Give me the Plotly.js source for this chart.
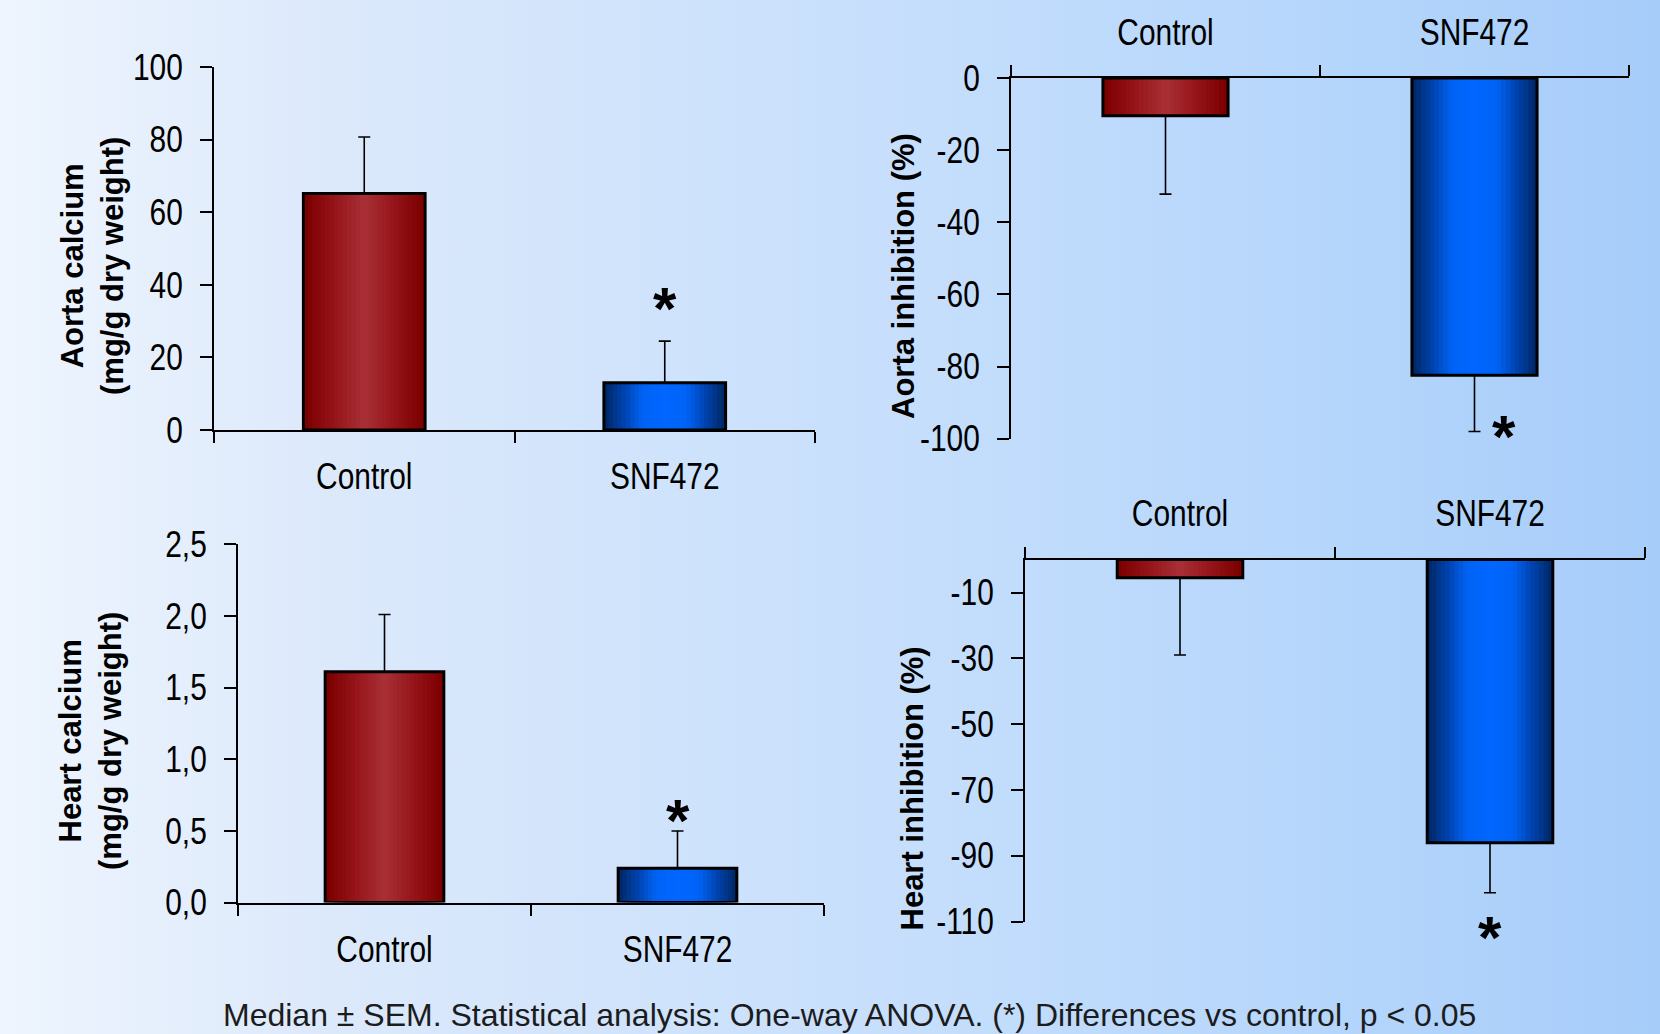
<!DOCTYPE html>
<html>
<head>
<meta charset="utf-8">
<script src="https://cdn.plot.ly/plotly-3.0.1.min.js"></script>
<style>
html,body{margin:0;padding:0;width:1660px;height:1034px;overflow:hidden;
background:linear-gradient(to right,#eef5fe 0%,#dce9fb 20%,#c9e0fc 50%,#bfdbfc 65%,#b2d4fb 85%,#a6ccf9 100%);}
#chart{width:1660px;height:1034px;}
</style>
</head>
<body>
<div id="chart"></div>
<script>
// ---- data ----
const categories = ['Control', 'SNF472'];
const aortaCalcium = [65.2, 13.0];
const aortaCalciumSem = [15.6, 11.5];
const heartCalcium = [1.61, 0.24];
const heartCalciumSem = [0.40, 0.26];
const aortaInhibition = [-10.5, -82.4];
const aortaInhibitionSem = [21.7, 15.6];
const heartInhibition = [-5.5, -86.0];
const heartInhibitionSem = [23.5, 15.2];
// y tick values of the inhibition panels (labels use a plain hyphen)
const aortaInhibitionTicks = [0, -20, -40, -60, -80, -100];
const heartInhibitionTicks = [-10, -30, -50, -70, -90, -110];
// asterisk positions (value units): aorta calcium, aorta inhibition, heart calcium, heart inhibition
const asteriskY = [35, -97, 0.61, -110];
const footnote = 'Median \u00B1 SEM. Statistical analysis: One-way ANOVA. (*) Differences vs control, p < 0.05';

// ---- style ----
const redStops = [[0, '#7c0000'], [0.5, '#951419'], [1, '#a72e34']];
const blueStops = [[0, '#00296a'], [0.35, '#0046b4'], [0.65, '#0063f6'], [1, '#0066ff']];
const BAR_W = 0.405, LAYERS = 14;
const NARROW = 0.83;

function hex2rgb(h) { return [1, 3, 5].map(i => parseInt(h.substr(i, 2), 16)); }
function lerpStops(stops, t) {
  for (let i = 1; i < stops.length; i++) {
    if (t <= stops[i][0] + 1e-9) {
      const a = stops[i - 1], b = stops[i];
      const f = (t - a[0]) / (b[0] - a[0]);
      const ca = hex2rgb(a[1]), cb = hex2rgb(b[1]);
      return 'rgb(' + ca.map((v, k) => Math.round(v + (cb[k] - v) * f)).join(',') + ')';
    }
  }
  return stops[stops.length - 1][1];
}

function panelTraces(values, sem, xa, ya) {
  const tr = [];
  for (let i = 0; i < LAYERS; i++) {
    const t = i / (LAYERS - 1);
    tr.push({
      type: 'bar', x: categories, y: values, xaxis: xa, yaxis: ya,
      width: BAR_W * (1 - i / LAYERS),
      marker: {color: [lerpStops(redStops, t), lerpStops(blueStops, t)], line: {width: 0}},
      hoverinfo: 'skip', showlegend: false
    });
  }
  tr.push({
    type: 'bar', x: categories, y: values, xaxis: xa, yaxis: ya, width: BAR_W,
    marker: {color: 'rgba(0,0,0,0)', line: {color: '#000', width: 3}},
    error_y: {
      type: 'data', symmetric: false,
      array: values.map((v, k) => v >= 0 ? sem[k] : 0),
      arrayminus: values.map((v, k) => v < 0 ? sem[k] : 0),
      color: '#000', thickness: 1.6, width: 6
    },
    showlegend: false
  });
  return tr;
}

const data = [].concat(
  panelTraces(aortaCalcium, aortaCalciumSem, 'x', 'y'),
  panelTraces(aortaInhibition, aortaInhibitionSem, 'x2', 'y2'),
  panelTraces(heartCalcium, heartCalciumSem, 'x3', 'y3'),
  panelTraces(heartInhibition, heartInhibitionSem, 'x4', 'y4')
);

const W = 1660, H = 1034;
const tickFont = {family: '"Liberation Sans", Arial, sans-serif', size: 36, color: '#000'};
function xAxis(px0, px1, anchor, side) {
  return {domain: [px0 / W, px1 / W], anchor: anchor, side: side, type: 'category',
    range: [-0.5, 1.5], tickson: 'boundaries', ticks: 'outside', ticklen: 11, tickwidth: 2,
    tickcolor: '#000', showline: true, linecolor: '#000', linewidth: 2, showgrid: false,
    zeroline: false, tickfont: tickFont, ticklabelstandoff: side === 'top' ? 17 : 14, fixedrange: true};
}
function yAxis(pyTop, pyBottom, anchor, range, opts) {
  return Object.assign({domain: [1 - pyBottom / H, 1 - pyTop / H], anchor: anchor, range: range,
    ticks: 'outside', ticklen: 12, tickwidth: 2,
    tickcolor: '#000', showline: true, linecolor: '#000', linewidth: 2, showgrid: false,
    zeroline: false, tickfont: tickFont, ticklabelstandoff: 10, fixedrange: true}, opts);
}

const titleFont = {family: 'Arial, "Liberation Sans", sans-serif', size: 31, color: '#000'};
const starFont = {family: 'Arial, "Liberation Sans", sans-serif', size: 60, color: '#000'};

const layout = {
  width: W, height: H,
  margin: {l: 0, r: 0, t: 0, b: 0},
  paper_bgcolor: 'rgba(0,0,0,0)', plot_bgcolor: 'rgba(0,0,0,0)',
  barmode: 'overlay', showlegend: false, separators: ', ',
  xaxis: xAxis(214, 815, 'y', 'bottom'),
  yaxis: yAxis(67.3, 430, 'x', [0, 100], {tick0: 0, dtick: 20}),
  xaxis2: xAxis(1011, 1629, 'y2', 'top'),
  yaxis2: yAxis(78, 438.7, 'x2', [-100, 0], {tickmode: 'array', tickvals: aortaInhibitionTicks,
    ticktext: aortaInhibitionTicks.map(String)}),
  xaxis3: xAxis(238, 824, 'y3', 'bottom'),
  yaxis3: yAxis(544.3, 902.6, 'x3', [0, 2.5], {tick0: 0, dtick: 0.5, tickformat: '.1f'}),
  xaxis4: xAxis(1025, 1645, 'y4', 'top'),
  yaxis4: yAxis(559.6, 921.7, 'x4', [-110, 0], {tickmode: 'array', tickvals: heartInhibitionTicks,
    ticktext: heartInhibitionTicks.map(String)}),
  annotations: [
    {xref: 'paper', yref: 'paper', x: 92 / W, y: 1 - 266 / H, text: '<b>Aorta calcium<br>(mg/g dry weight)</b>',
     textangle: -90, showarrow: false, font: titleFont, xanchor: 'center', yanchor: 'middle'},
    {xref: 'paper', yref: 'paper', x: 90 / W, y: 1 - 741 / H, text: '<b>Heart calcium<br>(mg/g dry weight)</b>',
     textangle: -90, showarrow: false, font: titleFont, xanchor: 'center', yanchor: 'middle'},
    {xref: 'paper', yref: 'paper', x: 904 / W, y: 1 - 276 / H, text: '<b>Aorta inhibition (%)</b>',
     textangle: -90, showarrow: false, font: titleFont, xanchor: 'center', yanchor: 'middle'},
    {xref: 'paper', yref: 'paper', x: 912 / W, y: 1 - 788.5 / H, text: '<b>Heart inhibition (%)</b>',
     textangle: -90, showarrow: false, font: titleFont, xanchor: 'center', yanchor: 'middle'},
    {xref: 'x', yref: 'y', x: categories[1], y: asteriskY[0], text: '<b>*</b>', showarrow: false, font: starFont, yshift: -5},
    {xref: 'x2', yref: 'y2', x: categories[1], y: asteriskY[1], text: '<b>*</b>', showarrow: false, font: starFont, xshift: 29, yshift: -9},
    {xref: 'x3', yref: 'y3', x: categories[1], y: asteriskY[2], text: '<b>*</b>', showarrow: false, font: starFont, yshift: -5},
    {xref: 'x4', yref: 'y4', x: categories[1], y: asteriskY[3], text: '<b>*</b>', showarrow: false, font: starFont, yshift: -16},
    {xref: 'paper', yref: 'paper', x: 849.5 / W, y: 1 - 1015 / H, text: footnote, showarrow: false,
     font: {family: 'Arial, "Liberation Sans", sans-serif', size: 32, color: '#1c1c1c'}, xanchor: 'center', yanchor: 'middle'}
  ]
};

Plotly.newPlot('chart', data, layout, {displayModeBar: false, staticPlot: true}).then(function (gd) {
  // the reference uses a condensed face for tick labels: compress the glyphs horizontally
  const sel = ['x', 'y', 'x2', 'y2', 'x3', 'y3', 'x4', 'y4'].map(id => '.' + id + 'tick text').join(', ');
  gd.querySelectorAll(sel).forEach(function (el) {
    const w = el.getComputedTextLength();
    if (w > 0) {
      el.setAttribute('textLength', (w * NARROW).toFixed(2));
      el.setAttribute('lengthAdjust', 'spacingAndGlyphs');
    }
  });
});
</script>
</body>
</html>
